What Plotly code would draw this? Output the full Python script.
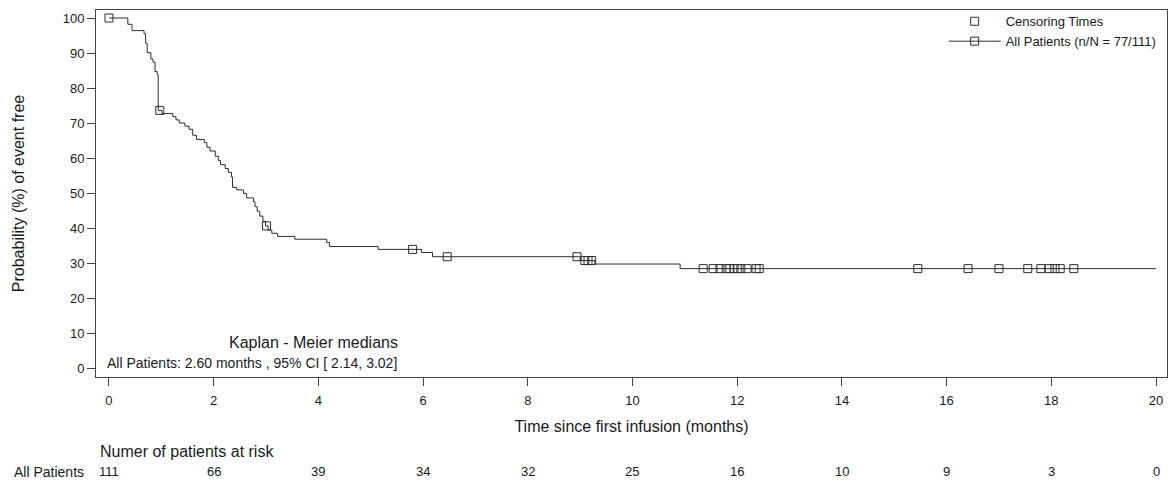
import numpy as np
import plotly.graph_objects as go

# Kaplan-Meier step function: time (months) at which each level starts, and survival (%)
step_times = [0.00, 0.36, 0.44, 0.67, 0.70, 0.73, 0.80, 0.84, 0.88, 0.92, 0.94,
              1.01, 1.22, 1.28, 1.34, 1.45, 1.53, 1.60, 1.67, 1.82, 1.87, 1.93,
              2.03, 2.09, 2.13, 2.22, 2.28, 2.34, 2.36, 2.44, 2.57, 2.63, 2.76,
              2.79, 2.83, 2.88, 2.94, 2.99, 3.04, 3.11, 3.22, 3.55, 4.16, 4.21,
              5.14, 5.97, 6.18, 9.00, 9.28, 10.91, 20.00]
step_surv = [100.0, 98.2, 96.4, 95.5, 92.8, 90.1, 88.3, 87.4, 84.7, 83.8, 73.6,
             72.7, 71.8, 70.9, 70.0, 69.1, 68.2, 66.5, 65.3, 64.4, 63.1, 62.0,
             60.5, 59.3, 58.1, 57.0, 55.9, 54.6, 51.6, 50.9, 49.9, 48.6, 47.5,
             46.1, 44.8, 43.4, 41.9, 40.6, 39.4, 38.5, 37.6, 36.8, 35.9, 34.7,
             33.9, 33.0, 31.8, 30.7, 29.7, 28.4, 28.4]

# Censoring times (months)
censor_times = [0.00, 0.97, 3.01, 5.80, 6.46, 8.94, 9.09, 9.15, 9.22,
                11.35, 11.54, 11.67, 11.79, 11.86, 11.94, 12.00, 12.07, 12.19,
                12.36, 12.42, 15.45, 16.41, 17.00, 17.55, 17.80, 17.96, 18.07,
                18.17, 18.43]

# Number at risk table
risk_times = [0, 2, 4, 6, 8, 10, 12, 14, 16, 18, 20]
risk_counts = [111, 66, 39, 34, 32, 25, 16, 10, 9, 3, 0]

legend_curve = "All Patients (n/N = 77/111)"
median_title = "Kaplan - Meier medians"
median_text = "All Patients: 2.60 months , 95% CI [ 2.14, 3.02]"

# survival level in effect at each censoring time
idx = np.searchsorted(np.array(step_times), np.array(censor_times), side="right") - 1
censor_surv = [step_surv[i] for i in idx]

FONT = "Arial, Liberation Sans, sans-serif"
INK = "#1a1a1a"
LINE = "#2e2e2e"

fig = go.Figure()

fig.add_trace(go.Scatter(
    x=step_times, y=step_surv, mode="lines", line=dict(shape="hv", color=LINE, width=1),
    showlegend=False, hoverinfo="skip"))

fig.add_trace(go.Scatter(
    x=censor_times, y=censor_surv, mode="markers", name="Censoring Times",
    marker=dict(symbol="square-open", size=8, color=LINE, line=dict(width=1, color=LINE))))

# legend entry for the curve (line with censor symbol)
fig.add_trace(go.Scatter(
    x=[None], y=[None], mode="lines+markers", name=legend_curve,
    line=dict(color=LINE, width=1),
    marker=dict(symbol="square-open", size=8, color=LINE, line=dict(width=1, color=LINE))))

annotations = [
    dict(x=3.90, y=7.4, xref="x", yref="y", text=median_title, showarrow=False,
         xanchor="center", yanchor="middle", font=dict(size=16, color=INK, family=FONT)),
    dict(x=-0.07, y=1.4, xref="x", yref="y", text=median_text, showarrow=False,
         xanchor="left", yanchor="middle", font=dict(size=14, color=INK, family=FONT)),
    dict(x=-0.21, y=-0.204, xref="x", yref="paper", text="Numer of patients at risk",
         showarrow=False, xanchor="left", yanchor="middle",
         font=dict(size=16, color=INK, family=FONT)),
    dict(x=0.0, y=-0.258, xref="paper", yref="paper", text="All Patients",
         showarrow=False, xanchor="right", yanchor="middle", xshift=-10,
         font=dict(size=14, color=INK, family=FONT)),
]
for t, n in zip(risk_times, risk_counts):
    annotations.append(dict(x=t, y=-0.258, xref="x", yref="paper", text=str(n),
                            showarrow=False, xanchor="center", yanchor="middle",
                            font=dict(size=13, color=INK, family=FONT)))

fig.update_layout(
    width=1170, height=481,
    margin=dict(l=96, r=3, t=10, b=104),
    paper_bgcolor="white", plot_bgcolor="white",
    font=dict(family=FONT, size=13, color=INK),
    showlegend=True,
    legend=dict(x=0.995, xanchor="right", y=1.01, yanchor="top",
                bgcolor="rgba(0,0,0,0)", borderwidth=0, itemwidth=52,
                font=dict(size=13, color=INK, family=FONT), tracegroupgap=0),
    annotations=annotations,
)

fig.update_xaxes(
    range=[-0.248, 20.21], tickmode="array", tickvals=risk_times,
    ticks="outside", ticklen=8, tickwidth=1, tickcolor="#444",
    showline=True, linecolor="#444", linewidth=1, mirror=True,
    showgrid=False, zeroline=False, ticklabelstandoff=3,
    tickfont=dict(size=13, color=INK, family=FONT),
    title=dict(text="Time since first infusion (months)", standoff=14,
               font=dict(size=16, color=INK, family=FONT)))

fig.update_yaxes(
    range=[-2.57, 102.29], tickmode="array", tickvals=list(range(0, 101, 10)),
    ticks="outside", ticklen=8, tickwidth=1, tickcolor="#444",
    showline=True, linecolor="#444", linewidth=1, mirror=True,
    showgrid=False, zeroline=False,
    tickfont=dict(size=13, color=INK, family=FONT),
    title=dict(text="Probability (%) of event free", standoff=34,
               font=dict(size=16, color=INK, family=FONT)))

fig.write_html("out.html")
